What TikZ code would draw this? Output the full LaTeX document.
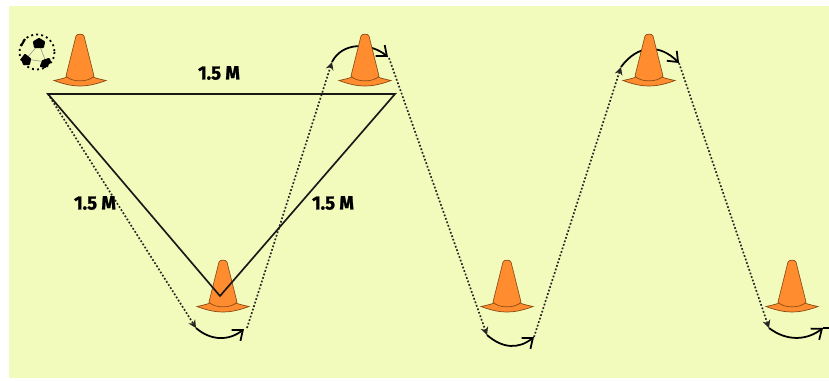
\documentclass[tikz,border=0pt]{standalone}
\usepackage{fontspec}
\setmainfont[BoldFeatures={FakeBold=1.3,FakeStretch=0.96}]{Fira Sans}
\usetikzlibrary{arrows.meta}
\definecolor{fieldbg}{HTML}{F2FBBC}
\definecolor{coneorange}{HTML}{FF8D30}
\definecolor{coneline}{HTML}{8A4B12}
\tikzset{
  tri/.style={draw=black!90,line width=0.95pt,line join=miter},
  dots/.style={draw=black!85,line width=0.95pt,dash pattern=on 1pt off 1.1pt,-{Stealth[length=4.5pt,width=4.5pt]}},
  turn/.style={draw=black,line width=1pt,-{Straight Barb[length=5pt,width=8pt,line width=1pt]}},
  lbl/.style={font=\fontsize{10.9}{12}\selectfont\bfseries,text=black,inner sep=0pt},
  conepart/.style={draw=coneline,line width=0.4pt,fill=coneorange},
  patch/.style={fill=black,draw=black,line width=1.2pt,line join=round},
  cone/.pic={
    \path[conepart] (-26,-5.5) .. controls (-17,-7.5) and (-14,-8) .. (-12,-10)
      -- (12,-10) .. controls (14,-8) and (17,-7.5) .. (26,-5.5)
      .. controls (14,-1) and (6,0) .. (0,0) .. controls (-6,0) and (-14,-1) .. (-26,-5.5) -- cycle;
    \path[conepart] (-4,-50) -- (-14,-10) .. controls (-9,-3.5) and (9,-3.5) .. (14,-10) -- (4,-50)
      .. controls (3,-52.5) and (-3,-52.5) .. (-4,-50) -- cycle;
  }
}
\begin{document}
\begin{tikzpicture}[x=0.02cm,y=-0.02cm]
\useasboundingbox (0,0) rectangle (829,380);
\fill[fieldbg] (9,6) rectangle (829,378);

% route points
\coordinate (s1) at (48,94);
\coordinate (a1) at (196,328);
\coordinate (b1) at (244,329);
\coordinate (a2) at (332,62);
\coordinate (b2) at (388,57);
\coordinate (a3) at (487,335);
\coordinate (b3) at (534,337);
\coordinate (a4) at (621,67);
\coordinate (b4) at (679,63);
\coordinate (a5) at (769,328);
\coordinate (b5) at (823,328);
\coordinate (endpt) at (829,328);

% triangle corners
\coordinate (t1) at (48,94);
\coordinate (t2) at (395,94);
\coordinate (t3) at (220,296);

% turns go behind the cones
\draw[turn] (a1) .. controls (211,341) and (229,341) .. (b1);
\draw[turn] (a2) .. controls (342,42) and (370,42) .. (b2);
\draw[turn] (a3) .. controls (503,349) and (519,349) .. (b3);
\draw[turn] (a4) .. controls (638,44) and (660,44) .. (b4);
\draw[turn] (a5) .. controls (786,341) and (806,341) .. (b5);
\draw[draw=black,line width=1pt] (b5) -- (endpt);

% cones
\pic at (80,86) {cone};
\pic at (223,312) {cone};
\pic at (365,86) {cone};
\pic at (507,312) {cone};
\pic at (649,86) {cone};
\pic at (792,312) {cone};

% dotted route
\draw[dots] (s1) -- (a1);
\draw[dots] (b1) ++(3,-1) -- (a2);
\draw[dots] (b2) ++(1,1) -- (a3);
\draw[dots] (b3) -- (a4);
\draw[dots] (b4) -- (a5);

% triangle
\draw[tri] (t1) -- (t2) -- (t3) -- cycle;

% labels
\node[lbl] (top) at (219,73) {1.5 M};
\node[lbl] (left) at (95,203) {1.5 M};
\node[lbl] (right) at (333,203) {1.5 M};

% ball
\draw[black,line width=1pt,dash pattern=on 1.1pt off 1.8pt] (37,52) circle (17.5);
\draw[black,line width=1.2pt] (21,46) -- (25,39);
\draw[black!45,line width=0.3pt] (39,44) -- (26,59) -- (46,62) -- cycle;
\path[patch] (39,39) -- (44,42) -- (43,47) -- (35,47) -- (34,42) -- cycle;
\path[patch] (25,55) -- (30,59) -- (29,64) -- (24,64) -- (22,59) -- cycle;
\path[patch] (49,59) -- (50,62) -- (45,67) -- (41,66) -- (43,61) -- cycle;
\end{tikzpicture}
\end{document}
